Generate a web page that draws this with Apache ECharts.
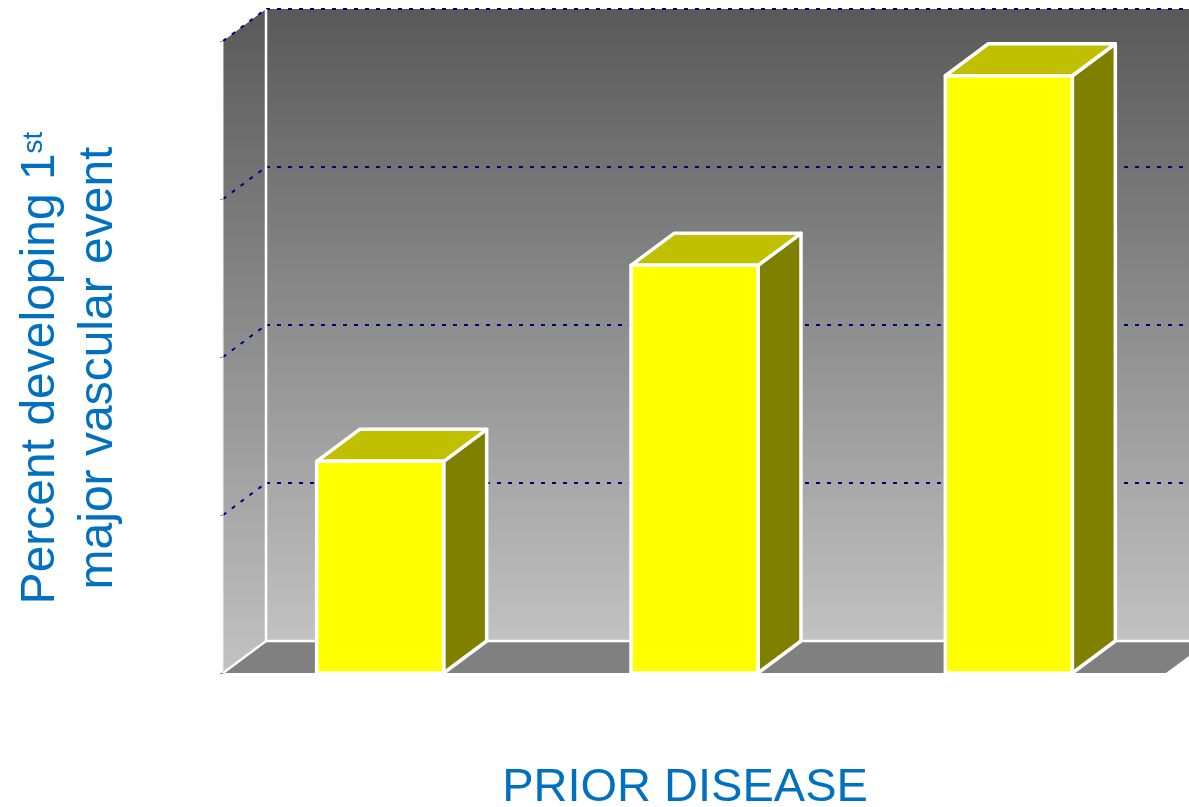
<!DOCTYPE html>
<html>
<head>
<meta charset="utf-8">
<script src="https://cdn.jsdelivr.net/npm/echarts@6/dist/echarts.min.js"></script>
<style>
  html, body { margin: 0; padding: 0; background: #ffffff; }
  #chart { width: 1189px; height: 807px; }
</style>
</head>
<body>
<div id="chart"></div>
<script>
// Categories of prior disease (axis labels are not shown on this slide)
const categories = ['Group 1', 'Group 2', 'Group 3'];
// Percent developing a first major vascular event
const eventPercent = [6.7, 12.9, 18.9];
// Value-axis ticks (drawn as dotted gridlines on the back wall)
const yTicks = [0, 5, 10, 15, 20];

const yMin = yTicks[0];
const yMax = yTicks[yTicks.length - 1];
const yStep = yTicks[1] - yTicks[0];

// Oblique depth of the 3-D box (pixels)
const DX = 43, DY = -32;

const chart = echarts.init(document.getElementById('chart'), null, { renderer: 'canvas' });

function wallGradient() {
  return new echarts.graphic.LinearGradient(0, 0, 0, 1, [
    { offset: 0, color: '#595959' },
    { offset: 1, color: '#c2c2c2' }
  ]);
}

// Back wall, side wall, floor and dotted gridlines
function renderFrame(params, api) {
  const cs = params.coordSys;
  const left = cs.x, top = cs.y, right = cs.x + cs.width, bottom = cs.y + cs.height;
  const canvasRight = api.getWidth();
  const children = [];

  children.push({
    type: 'rect',
    shape: { x: left + DX, y: top + DY, width: canvasRight - (left + DX) + 40, height: cs.height },
    style: { fill: wallGradient() }
  });
  children.push({
    type: 'polygon',
    shape: { points: [[left, top], [left + DX, top + DY], [left + DX, bottom + DY], [left, bottom]] },
    style: { fill: wallGradient() }
  });

  yTicks.forEach(function (t) {
    const y = api.coord([0, t])[1];
    children.push({
      type: 'line',
      shape: { x1: left + DX, y1: y + DY, x2: canvasRight + 40, y2: y + DY },
      style: { stroke: '#000080', lineWidth: 2, lineDash: [4, 7] }
    });
    children.push({
      type: 'line',
      shape: { x1: left, y1: y, x2: left + DX, y2: y + DY },
      style: { stroke: '#000080', lineWidth: 2, lineDash: [4, 7] }
    });
  });

  children.push({
    type: 'polygon',
    shape: { points: [[left, bottom], [left + DX, bottom + DY], [right + DX, bottom + DY], [right, bottom]] },
    style: { fill: '#808080' }
  });

  // white edges of the box
  children.push({
    type: 'line',
    shape: { x1: left + DX, y1: top + DY, x2: left + DX, y2: bottom + DY },
    style: { stroke: '#ffffff', lineWidth: 2.5 }
  });
  children.push({
    type: 'line',
    shape: { x1: left + DX, y1: bottom + DY, x2: canvasRight + 40, y2: bottom + DY },
    style: { stroke: '#ffffff', lineWidth: 2.5 }
  });
  children.push({
    type: 'line',
    shape: { x1: left, y1: bottom, x2: left + DX, y2: bottom + DY },
    style: { stroke: '#ffffff', lineWidth: 2.5 }
  });
  children.push({
    type: 'line',
    shape: { x1: left, y1: top, x2: left, y2: bottom },
    style: { stroke: '#f0f0f0', lineWidth: 1 }
  });

  return { type: 'group', children: children };
}

// 3-D column: front face, right side and top
function renderBar(params, api) {
  const idx = api.value(0);
  const val = api.value(1);
  const topPt = api.coord([idx, val]);
  const basePt = api.coord([idx, 0]);
  const bw = api.size([1, 0])[0] * 0.404;
  const xl = topPt[0] - bw / 2, xr = topPt[0] + bw / 2;
  const yt = topPt[1], yb = basePt[1];
  const edge = { stroke: '#ffffff', lineWidth: 3.5, lineJoin: 'round' };

  return {
    type: 'group',
    children: [
      {
        type: 'polygon',
        shape: { points: [[xr, yt], [xr + DX, yt + DY], [xr + DX, yb + DY], [xr, yb]] },
        style: Object.assign({ fill: '#808000' }, edge)
      },
      {
        type: 'polygon',
        shape: { points: [[xl, yt], [xl + DX, yt + DY], [xr + DX, yt + DY], [xr, yt]] },
        style: Object.assign({ fill: '#c0c000' }, edge)
      },
      {
        type: 'rect',
        shape: { x: xl, y: yt, width: bw, height: yb - yt },
        style: Object.assign({ fill: '#ffff00' }, edge)
      }
    ]
  };
}

const barData = categories.map(function (c, i) { return [i, eventPercent[i]]; });

chart.setOption({
  animation: false,
  backgroundColor: '#ffffff',
  grid: { left: 223, top: 41, width: 943, height: 632, containLabel: false },
  xAxis: {
    type: 'category',
    data: categories,
    boundaryGap: true,
    axisLine: { show: false },
    axisTick: { show: false },
    axisLabel: { show: false },
    splitLine: { show: false }
  },
  yAxis: {
    type: 'value',
    min: yMin,
    max: yMax,
    interval: yStep,
    axisLine: { show: false },
    axisTick: { show: true, length: 3, lineStyle: { color: '#8888cc', width: 1 } },
    axisLabel: { show: false },
    splitLine: { show: false }
  },
  graphic: [
    {
      type: 'text',
      x: 70,
      y: 368,
      rotation: Math.PI / 2,
      style: {
        text: '{a|Percent developing 1}{s|st}\n{a|major vascular event}',
        align: 'center',
        verticalAlign: 'middle',
        rich: {
          a: { fontFamily: 'Liberation Sans, Arial, sans-serif', fontSize: 48, lineHeight: 58, fill: '#0070c0' },
          s: { fontFamily: 'Liberation Sans, Arial, sans-serif', fontSize: 28, lineHeight: 28, fill: '#0070c0', verticalAlign: 'top', padding: [8, 0, 0, 0] }
        }
      }
    },
    {
      type: 'text',
      x: 685,
      y: 788,
      style: {
        text: 'PRIOR DISEASE',
        align: 'center',
        verticalAlign: 'middle',
        fontFamily: 'Liberation Sans, Arial, sans-serif',
        fontSize: 47,
        fill: '#0070c0'
      }
    }
  ],
  series: [
    {
      type: 'custom',
      name: 'frame',
      coordinateSystem: 'cartesian2d',
      clip: false,
      silent: true,
      z: 1,
      data: [[0, 0]],
      renderItem: renderFrame
    },
    {
      type: 'custom',
      name: 'Percent developing 1st major vascular event',
      coordinateSystem: 'cartesian2d',
      clip: false,
      z: 2,
      data: barData,
      encode: { x: 0, y: 1 },
      renderItem: renderBar
    }
  ]
});
</script>
</body>
</html>
